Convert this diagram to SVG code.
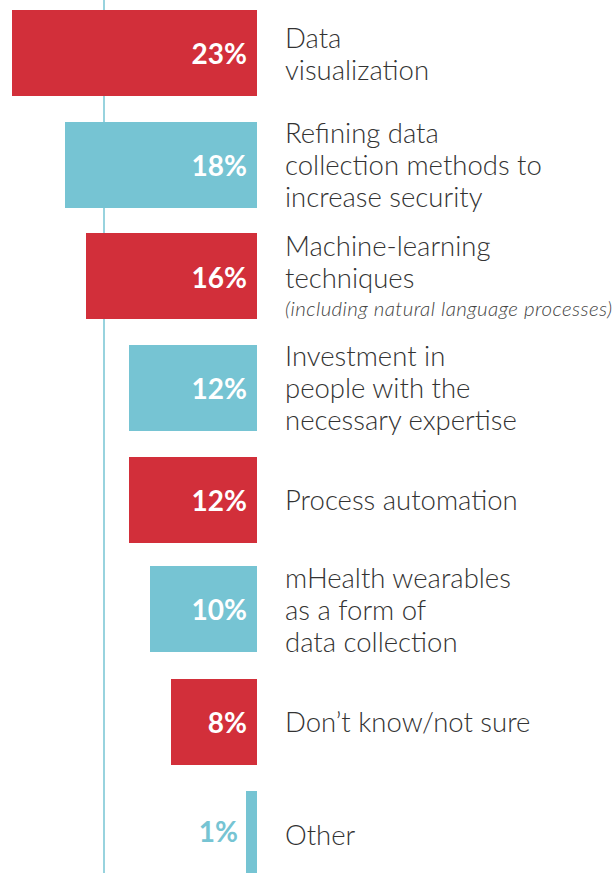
<svg xmlns="http://www.w3.org/2000/svg" width="615" height="873" viewBox="0 0 615 873">
<style>
.red{fill:#D22F3A}
.teal{fill:#76C4D3}
.pct{font-family:Lato,"Liberation Sans",sans-serif;font-weight:700;font-size:28px;fill:#fff;text-anchor:end}
.lbl{font-family:Lato,"Open Sans",sans-serif;font-weight:300;font-size:27.5px;fill:#333}
.sub{font-family:Lato,"Open Sans",sans-serif;font-weight:300;font-style:italic;font-size:20.5px;letter-spacing:0.4px;fill:#444}
</style>
<rect width="615" height="873" fill="#fff"/>
<g id="axis"><line x1="104" y1="0" x2="104" y2="873" stroke="#76C4D3" stroke-width="1.5"/></g>
<g id="bar1"><rect class="red" x="12" y="10" width="245" height="86"/><text class="pct" x="247" y="64">23%</text><text class="lbl" x="285" y="48">Data</text><text class="lbl" x="285" y="80">visualization</text></g>
<g id="bar2"><rect class="teal" x="65" y="122" width="192" height="86"/><text class="pct" x="247" y="176">18%</text><text class="lbl" x="285" y="143">Refining data</text><text class="lbl" x="285" y="175">collection methods to</text><text class="lbl" x="285" y="207">increase security</text></g>
<g id="bar3"><rect class="red" x="86" y="233" width="171" height="86"/><text class="pct" x="247" y="288">16%</text><text class="lbl" x="285" y="256">Machine-learning</text><text class="lbl" x="285" y="288">techniques</text><text class="sub" x="285" y="316">(including natural language processes)</text></g>
<g id="bar4"><rect class="teal" x="129" y="345" width="128" height="86"/><text class="pct" x="247" y="399">12%</text><text class="lbl" x="285" y="366">Investment in</text><text class="lbl" x="285" y="398">people with the</text><text class="lbl" x="285" y="430">necessary expertise</text></g>
<g id="bar5"><rect class="red" x="129" y="457" width="128" height="86"/><text class="pct" x="247" y="511">12%</text><text class="lbl" x="285" y="510">Process automation</text></g>
<g id="bar6"><rect class="teal" x="150" y="566" width="107" height="86"/><text class="pct" x="247" y="620">10%</text><text class="lbl" x="285" y="588">mHealth wearables</text><text class="lbl" x="285" y="620">as a form of</text><text class="lbl" x="285" y="652">data collection</text></g>
<g id="bar7"><rect class="red" x="171" y="679" width="86" height="86"/><text class="pct" x="247" y="733">8%</text><text class="lbl" x="285" y="732">Don’t know/not sure</text></g>
<g id="bar8"><rect class="teal" x="246" y="791" width="11" height="82"/><text class="pct" x="238" y="842" style="fill:#76C4D3">1%</text><text class="lbl" x="285" y="845">Other</text></g>
</svg>
